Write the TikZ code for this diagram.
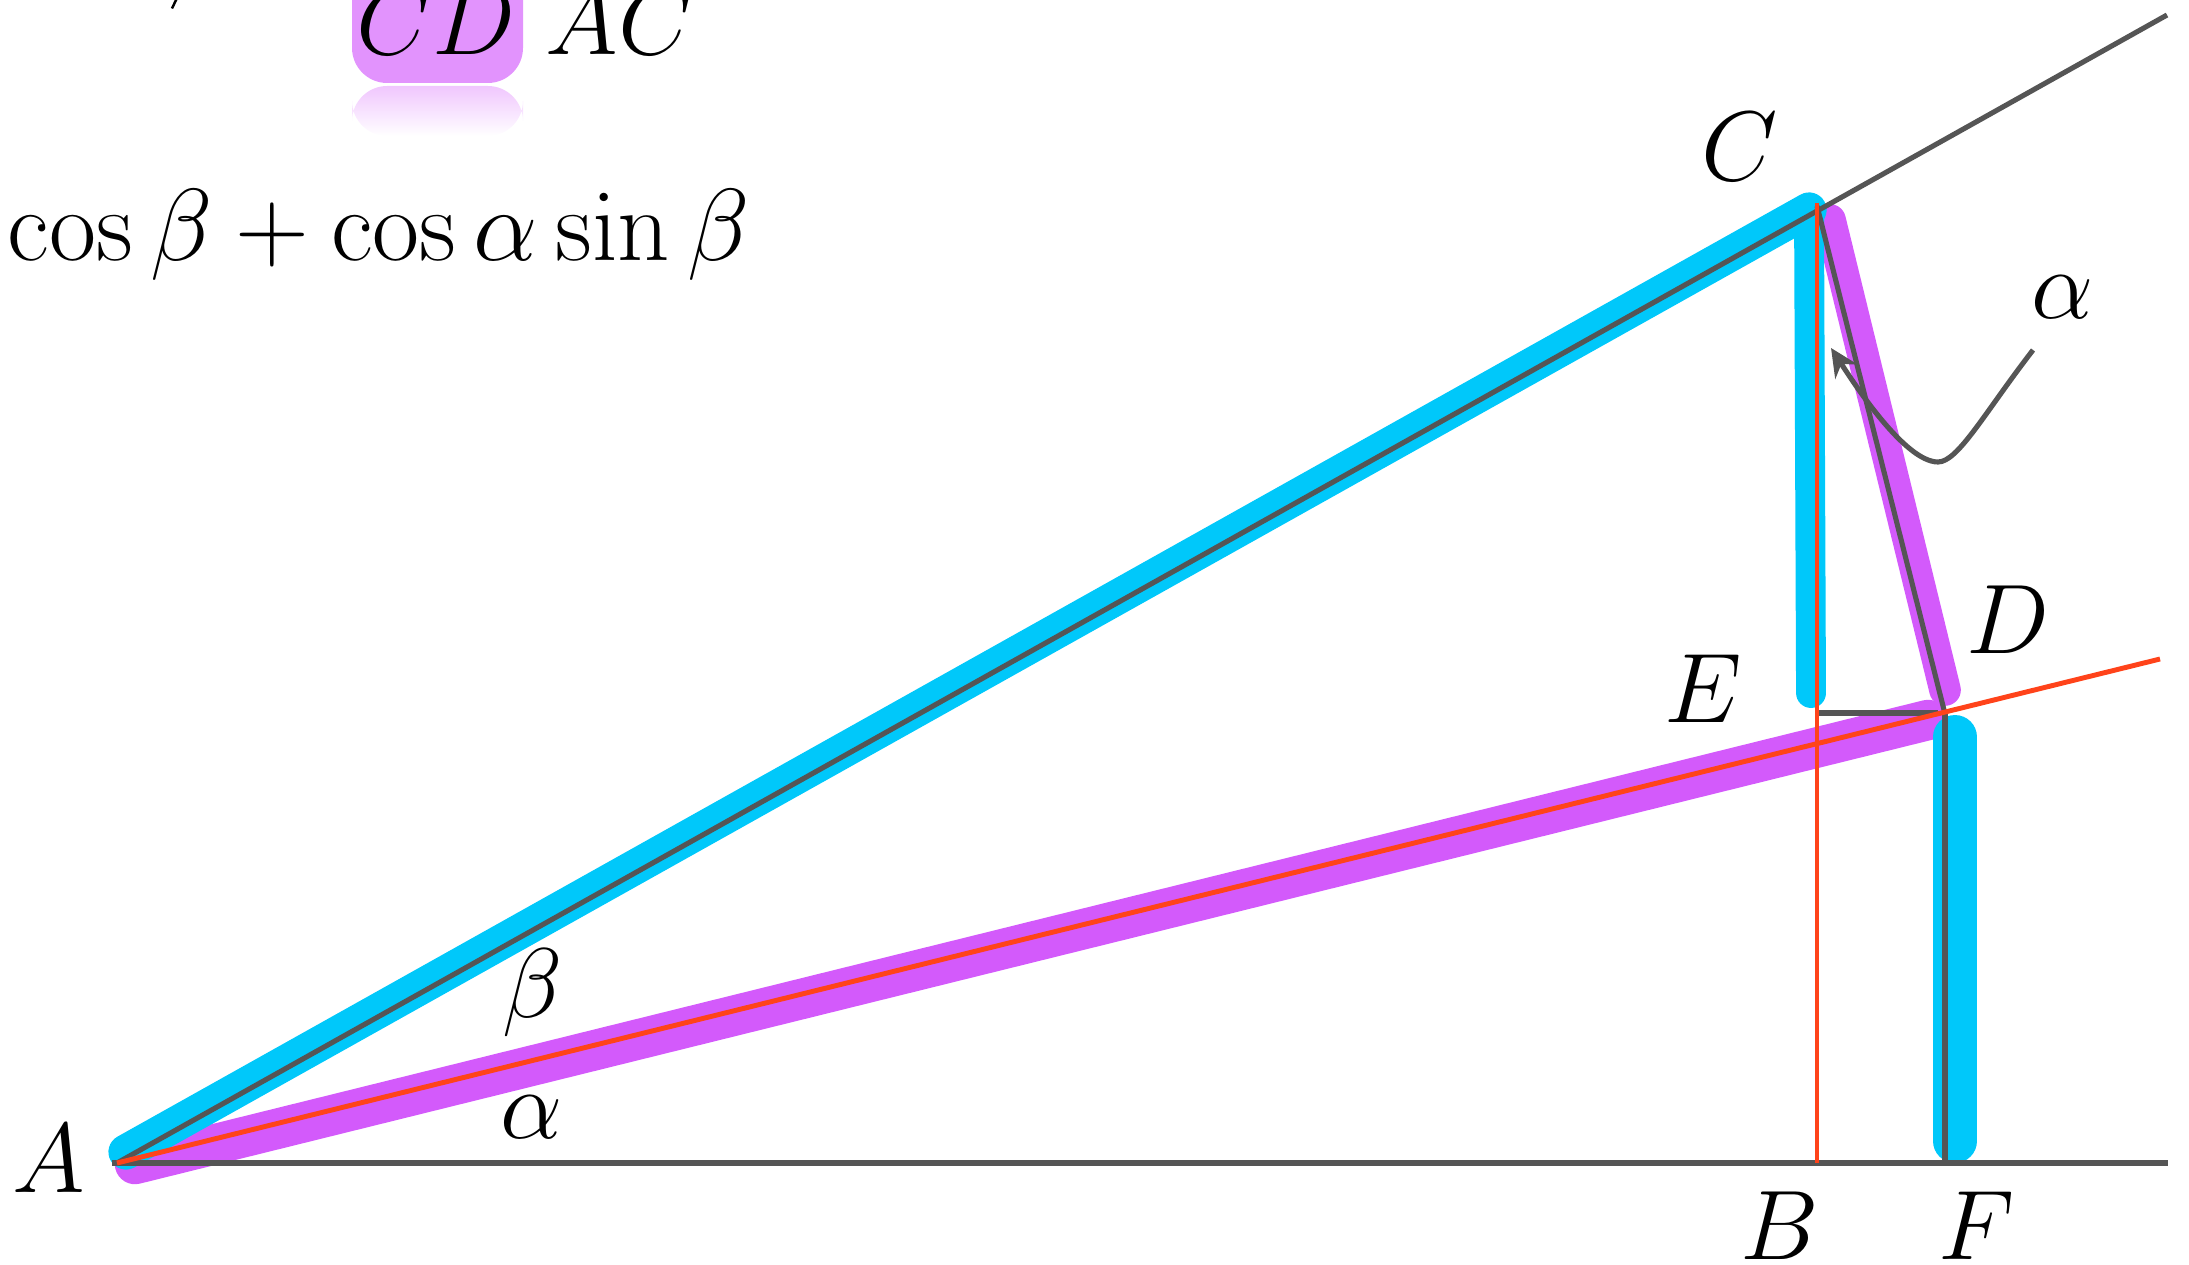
\documentclass[tikz,border=0pt]{standalone}
\usetikzlibrary{arrows.meta}
\definecolor{gline}{HTML}{555555}
\definecolor{rline}{HTML}{FF431A}
\definecolor{cyanhl}{HTML}{00C8FA}
\definecolor{maghl}{HTML}{D35AFB}
\definecolor{magbox}{HTML}{E293FD}
\definecolor{magfade}{HTML}{F0C6FE}
\newcommand{\lb}[1]{\scalebox{1.13}{$#1$}}
\begin{document}
\begin{tikzpicture}[x=0.01cm,y=-0.01cm,
  lbl/.style={font=\fontsize{24.88}{30}\selectfont, inner sep=0pt, text=black},
  gl/.style={draw=gline, line width=1.45pt},
  rl/.style={draw=rline, line width=1.4pt},
  rlthin/.style={draw=rline, line width=1.2pt},
  hlc/.style={draw=cyanhl, line cap=round, line join=round},
  hlm/.style={draw=maghl, line cap=round, line join=round},
  garrow/.style={draw=gline, line width=1.45pt, -{Stealth[length=8pt,width=7.5pt]}}]
\useasboundingbox (0,0) rectangle (2189,1264);

% key points
\coordinate (A) at (117,1163);
\coordinate (C) at (1817,206);
\coordinate (D) at (1945,714);
\coordinate (E) at (1817,713);
\coordinate (B) at (1817,1163);
\coordinate (F) at (1945,1163);
\coordinate (base0) at (112,1163);
\coordinate (base1) at (2168,1163);
\coordinate (ACx) at (2167,15);
\coordinate (ADx) at (2160,659);
\coordinate (Ctop) at (1817,203);
\coordinate (ED) at (1938,713);

% highlight strips
\coordinate (mAD0) at (135,1164);
\coordinate (mAD1) at (1928,720);
\coordinate (mCD0) at (1830,220);
\coordinate (mCD1) at (1945,690);
\coordinate (cAC0) at (126,1152);
\coordinate (cC) at (1809,210);
\coordinate (cE) at (1811,693);
\coordinate (cDF0) at (1955,737);
\coordinate (cDF1) at (1955,1141);

\draw[hlm, line width=11.5pt] (mAD0) -- (mAD1);
\draw[hlm, line width=9pt] (mCD0) -- (mCD1);
\draw[hlc, line width=10pt] (cAC0) -- (cC);
\draw[hlc, line width=8.5pt] (cC) -- (cE);
\draw[hlc, line width=12.5pt] (cDF0) -- (cDF1);

% construction lines
\draw[gl] (base0) -- (base1);
\draw[gl] (A) -- (ACx);
\draw[gl] (C) -- (D);
\draw[gl] (D) -- (F);
\draw[gl] (E) -- (ED);
\draw[rl] (A) -- (ADx);
\draw[rlthin] (Ctop) -- (B);

% arrow to alpha
\coordinate (arrS) at (2033,350);
\coordinate (arrT) at (1831,348);
\draw[garrow] (arrS) .. controls (1985,412) and (1958,462) .. (1938,462)
  .. controls (1905,462) and (1855,385) .. (arrT);

% top formula pieces
\fill[magbox, rounded corners=10pt] (352,-40) rectangle (523,83);
\shade[top color=magfade, bottom color=white, rounded corners=10pt] (352,86) rectangle (523,136);
\node[lbl, anchor=base] (tCD) at (436,55) {\lb{CD}};
\node[lbl, anchor=base west] (tAC) at (545,55) {\lb{AC}};
\draw[black, line width=0.7pt] (172,8.5) -- (176.5,-1);
\node[lbl, anchor=base west] (formula) at (7,261) {\scalebox{1.17}{$\cos\beta+\cos\alpha\sin\beta$}};

% labels
\node[lbl, anchor=base] (lA) at (49,1192) {\lb{A}};
\node[lbl, anchor=base] (lC) at (1740,181) {\lb{C}};
\node[lbl, anchor=base] (lD) at (2008,653) {\lb{D}};
\node[lbl, anchor=base] (lE) at (1703,722) {\lb{E}};
\node[lbl, anchor=base] (lB) at (1780,1259) {\lb{B}};
\node[lbl, anchor=base] (lF) at (1977,1259) {\lb{F}};
\node[lbl, anchor=base] (lbeta) at (533,1017) {\lb{\beta}};
\node[lbl, anchor=base] (lalpha) at (532,1138) {\lb{\alpha}};
\node[lbl, anchor=base] (lalpha2) at (2063,318) {\lb{\alpha}};
\end{tikzpicture}
\end{document}
